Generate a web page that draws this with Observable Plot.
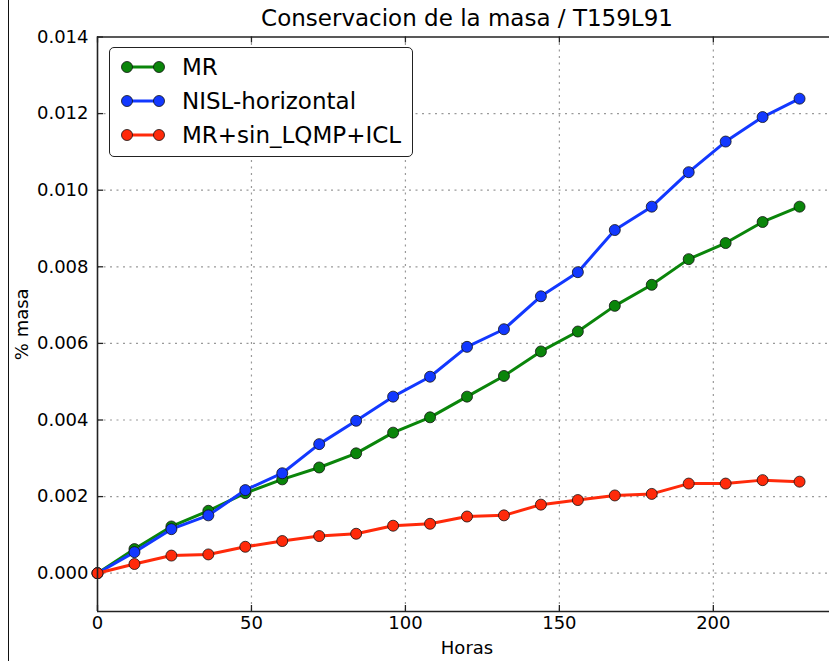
<!DOCTYPE html>
<html>
<head>
<meta charset="utf-8">
<script src="https://cdn.jsdelivr.net/npm/d3@7"></script>
<script src="https://cdn.jsdelivr.net/npm/@observablehq/plot@0.6"></script>
<style>
  html, body { margin: 0; padding: 0; background: #fff; }
  #wrap { position: relative; width: 829px; height: 661px; overflow: hidden; font-family: "DejaVu Sans", sans-serif; }
  #edge { position: absolute; left: 8px; top: 0; width: 0; height: 661px; border-left: 1px solid #111; }
  #legend { position: absolute; left: 109px; top: 47px; width: 304px; height: 110px; box-sizing: border-box;
            border: 1.5px solid #222; border-radius: 5px; background: #fff; }
  #legend .row { position: absolute; left: 0; height: 30px; display: flex; align-items: center; }
  #legend .row span { font-size: 23px; color: #000; white-space: nowrap; }
  #legend svg { display: block; }
</style>
</head>
<body>
<div id="wrap"><div id="edge"></div></div>
<script>
// Hours of simulation (every 12 h)
const horas = [0, 12, 24, 36, 48, 60, 72, 84, 96, 108, 120, 132, 144, 156, 168, 180, 192, 204, 216, 228];

// Mass change (%) for each experiment
const mr = [0, 0.00063, 0.00122, 0.00163, 0.00209, 0.00245, 0.00276, 0.00313, 0.00367, 0.00407,
            0.00461, 0.00515, 0.00579, 0.00631, 0.00698, 0.00753, 0.00820, 0.00862, 0.00917, 0.00957];
const nislHorizontal = [0, 0.00055, 0.00115, 0.00151, 0.00217, 0.00261, 0.00337, 0.00398, 0.00461, 0.00513,
            0.00591, 0.00637, 0.00723, 0.00786, 0.00896, 0.00957, 0.01047, 0.01127, 0.01191, 0.01239];
const mrSinLqmpIcl = [0, 0.00024, 0.00046, 0.00049, 0.00069, 0.00084, 0.00097, 0.00103, 0.00124, 0.00129,
            0.00148, 0.00151, 0.00179, 0.00191, 0.00203, 0.00207, 0.00234, 0.00234, 0.00243, 0.00239];

const seriesNames = ["MR", "NISL-horizontal", "MR+sin_LQMP+ICL"];
const seriesValues = [mr, nislHorizontal, mrSinLqmpIcl];
const seriesColors = ["#0a850a", "#1238ff", "#ff2a0a"];

const xTicks = [0, 50, 100, 150, 200];
const yTicks = [0, 0.002, 0.004, 0.006, 0.008, 0.010, 0.012, 0.014];
const xDomain = [0, 240];
const yDomain = [-0.001, 0.014];

const titleText = "Conservacion de la masa / T159L91";
const xLabel = "Horas";
const yLabel = "% masa";

// Layout
const W = 829, H = 661;
const M = {top: 36.5, right: -7, bottom: 50, left: 97};
const frameW = W - M.left - M.right;
const frameH = H - M.top - M.bottom;
const tickLen = 6;

const series = seriesNames.map((name, i) => ({
  name,
  color: seriesColors[i],
  rows: horas.map((h, j) => ({h, v: seriesValues[i][j]}))
}));

const grid = {stroke: "#999", strokeWidth: 1.2, strokeDasharray: "2,4.5"};
const spine = {stroke: "#222", strokeWidth: 1.6};

const marks = [
  // dotted grid
  Plot.ruleX(xTicks.filter(d => d > xDomain[0]), {x: d => d, ...grid}),
  Plot.ruleY(yTicks.filter(d => d < yDomain[1]), {y: d => d, ...grid}),
  // tick labels
  Plot.axisX({ticks: xTicks, tickSize: 0, tickPadding: 5, label: null, fontSize: 18}),
  Plot.axisY({ticks: yTicks, tickSize: 0, tickPadding: 9, tickFormat: d3.format(".3f"), label: null, fontSize: 18}),
  // inward tick marks
  Plot.tickX(xTicks, {x: d => d, insetTop: frameH - tickLen, stroke: "#222", strokeWidth: 1.3}),
  Plot.tickX(xTicks, {x: d => d, insetBottom: frameH - tickLen, stroke: "#222", strokeWidth: 1.3}),
  Plot.tickY(yTicks, {y: d => d, insetRight: frameW - tickLen, stroke: "#222", strokeWidth: 1.3}),
];

// each series: line then markers
for (const s of series) {
  marks.push(Plot.line(s.rows, {x: "h", y: "v", stroke: s.color, strokeWidth: 3, strokeLinejoin: "round"}));
  marks.push(Plot.dot(s.rows, {x: "h", y: "v", r: 5.5, fill: s.color, stroke: "#111", strokeWidth: 0.8}));
}

marks.push(
  // spines
  Plot.ruleX([xDomain[0]], {x: d => d, ...spine}),
  Plot.ruleY(yDomain, {y: d => d, ...spine}),
  // title and axis labels
  Plot.text([titleText], {text: d => d, frameAnchor: "top", dy: -18, lineAnchor: "middle", textAnchor: "middle", fontSize: 23}),
  Plot.text([xLabel], {text: d => d, frameAnchor: "bottom", dy: 37, lineAnchor: "middle", textAnchor: "middle", fontSize: 18}),
  Plot.text([yLabel], {text: d => d, frameAnchor: "left", dx: -75, rotate: -90, lineAnchor: "middle", textAnchor: "middle", fontSize: 18})
);

const chart = Plot.plot({
  width: W,
  height: H,
  marginTop: M.top,
  marginRight: M.right,
  marginBottom: M.bottom,
  marginLeft: M.left,
  x: {domain: xDomain},
  y: {domain: yDomain},
  style: {fontFamily: "DejaVu Sans, sans-serif", fontSize: "18px", color: "#000", background: "#fff", overflow: "hidden"},
  marks
});

const wrap = document.getElementById("wrap");
wrap.appendChild(chart);

// legend box
const legend = document.createElement("div");
legend.id = "legend";
const rowCenters = [19, 53, 87];
series.forEach((s, i) => {
  const row = document.createElement("div");
  row.className = "row";
  row.style.top = (rowCenters[i] - 15) + "px";
  const sw = d3.create("svg").attr("width", 72).attr("height", 30);
  sw.append("line").attr("x1", 17).attr("x2", 49).attr("y1", 15).attr("y2", 15)
    .attr("stroke", s.color).attr("stroke-width", 3);
  for (const cx of [17, 49]) {
    sw.append("circle").attr("cx", cx).attr("cy", 15).attr("r", 5.5)
      .attr("fill", s.color).attr("stroke", "#111").attr("stroke-width", 0.8);
  }
  row.appendChild(sw.node());
  const label = document.createElement("span");
  label.textContent = s.name;
  row.appendChild(label);
  legend.appendChild(row);
});
wrap.appendChild(legend);
</script>
</body>
</html>
